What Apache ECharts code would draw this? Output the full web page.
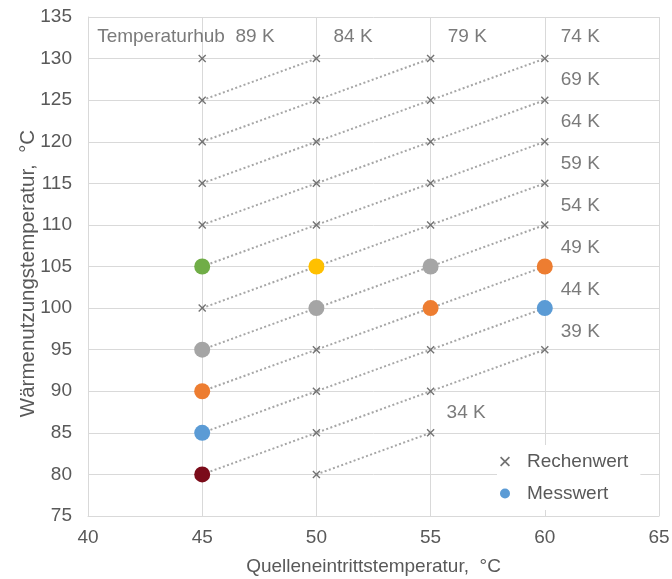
<!DOCTYPE html>
<html>
<head>
<meta charset="utf-8">
<script src="https://cdn.jsdelivr.net/npm/echarts@6/dist/echarts.min.js"></script>
<style>html,body{margin:0;padding:0;background:#fff;}#c{width:672px;height:579px;}</style>
</head>
<body>
<div id="c"></div>
<script>
// ---- data ----
const xTicks = [40, 45, 50, 55, 60, 65];
const yTicks = [75, 80, 85, 90, 95, 100, 105, 110, 115, 120, 125, 130, 135];

const rechenwertX = [45,45,45,45,45,45, 50,50,50,50,50,50,50,50,50, 55,55,55,55,55,55,55,55, 60,60,60,60,60,60];
const rechenwertY = [130,125,120,115,110,100, 130,125,120,115,110,95,90,85,80, 130,125,120,115,110,95,90,85, 130,125,120,115,110,95];

const messwertX = [45,45,45,45,45, 50,50, 55,55, 60,60];
const messwertY = [105,95,90,85,80, 105,100, 105,100, 105,100];

const hubLabels = ['89 K','84 K','79 K','74 K','69 K','64 K','59 K','54 K','49 K','44 K','39 K','34 K'];
const hubLineX = [[45],[45,50],[45,50,55],[45,50,55,60],[45,50,55,60],[45,50,55,60],[45,50,55,60],[45,50,55,60],[45,50,55,60],[45,50,55,60],[45,50,55,60],[50,55]];
const hubLineY = [[130],[125,130],[120,125,130],[115,120,125,130],[110,115,120,125],[105,110,115,120],[100,105,110,115],[95,100,105,110],[90,95,100,105],[85,90,95,100],[80,85,90,95],[80,85]];

// ---- layout / style ----
const hubPrefix = 'Temperaturhub  ';
const hubLabelAnchor = [[40.4,132.6],[50.75,132.6],[55.75,132.6],[60.7,132.6],[60.7,127.5],[60.7,122.4],[60.7,117.4],[60.7,112.3],[60.7,107.3],[60.7,102.2],[60.7,97.1],[55.7,87.4]];
const messwertColors = ['#70ad47','#a5a5a5','#ed7d31','#5b9bd5','#7b0c1a','#ffc000','#a5a5a5','#a5a5a5','#ed7d31','#ed7d31','#5b9bd5'];
const textColor = '#595959';
const gridColor = '#d9d9d9';
const fontFamily = 'Liberation Sans, Arial, sans-serif';
const crossPath = 'path://M0,1.2L1.2,0L5,3.8L8.8,0L10,1.2L6.2,5L10,8.8L8.8,10L5,6.2L1.2,10L0,8.8L3.8,5Z';

const chart = echarts.init(document.getElementById('c'));

const series = [];
hubLineX.forEach((xs, i) => {
  series.push({
    type: 'line',
    name: 'hub' + i,
    data: xs.map((x, j) => [x, hubLineY[i][j]]),
    showSymbol: false,
    symbol: 'none',
    silent: true,
    z: 1,
    lineStyle: { color: '#a6a6a6', width: 2, type: [2, 2.4] }
  });
});
series.push({
  type: 'scatter',
  name: 'Rechenwert',
  data: rechenwertX.map((x, i) => [x, rechenwertY[i]]),
  symbol: crossPath,
  symbolSize: 8,
  itemStyle: { color: '#737373', opacity: 1 },
  z: 3
});
series.push({
  type: 'scatter',
  name: 'Messwert',
  data: messwertX.map((x, i) => ({ value: [x, messwertY[i]], itemStyle: { color: messwertColors[i] } })),
  symbol: 'circle',
  symbolSize: 16,
  itemStyle: { color: '#5b9bd5', opacity: 1 },
  z: 4
});
series.push({
  type: 'scatter',
  name: 'labels',
  data: hubLabelAnchor.map((p, i) => ({ value: p, name: (i === 0 ? hubPrefix : '') + hubLabels[i] })),
  symbolSize: 1,
  itemStyle: { color: 'transparent' },
  silent: true,
  z: 5,
  label: {
    show: true,
    position: 'inside',
    align: 'left',
    verticalAlign: 'middle',
    formatter: p => p.name,
    color: textColor,
    fontSize: 19,
    fontFamily: fontFamily
  }
});

chart.setOption({
  animation: false,
  backgroundColor: '#ffffff',
  grid: { left: 88, right: 13, top: 17, bottom: 63, outerBoundsMode: 'none', containLabel: false },
  xAxis: {
    type: 'value', min: xTicks[0], max: xTicks[xTicks.length - 1], interval: 5,
    name: 'Quelleneintrittstemperatur,  °C', nameLocation: 'middle', nameGap: 41, nameMoveOverlap: false,
    nameTextStyle: { color: textColor, fontSize: 19, fontFamily: fontFamily },
    axisLine: { show: true, lineStyle: { color: gridColor } },
    axisTick: { show: false },
    axisLabel: { color: textColor, fontSize: 19, fontFamily: fontFamily, margin: 12 },
    splitLine: { show: true, lineStyle: { color: gridColor } }
  },
  yAxis: {
    type: 'value', min: yTicks[0], max: yTicks[yTicks.length - 1], interval: 5,
    name: 'Wärmenutzungstemperatur,  °C', nameLocation: 'middle', nameGap: 49, nameRotate: 90, nameMoveOverlap: false,
    nameTextStyle: { color: textColor, fontSize: 20.5, fontFamily: fontFamily, padding: [0, 14, 0, 0] },
    axisLine: { show: true, lineStyle: { color: gridColor } },
    axisTick: { show: false },
    axisLabel: { color: textColor, fontSize: 19, fontFamily: fontFamily, margin: 16 },
    splitLine: { show: true, lineStyle: { color: gridColor } }
  },
  legend: {
    data: ['Rechenwert', 'Messwert'],
    orient: 'vertical',
    left: 497, top: 445,
    backgroundColor: '#ffffff',
    padding: [6, 12, 6, 3],
    itemWidth: 26, itemHeight: 10, itemGap: 11,
    textStyle: { color: textColor, fontSize: 19, fontFamily: fontFamily, lineHeight: 21, padding: [0, 0, 0, 4] }
  },
  series: series
});
</script>
</body>
</html>
